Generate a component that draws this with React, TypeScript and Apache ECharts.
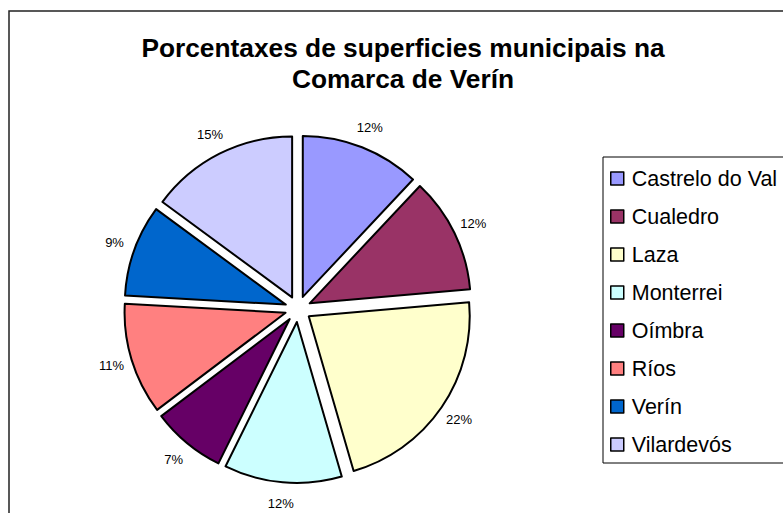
import React, { useEffect, useRef } from "react";
import * as echarts from "echarts";

const titleText = "Porcentaxes de superficies municipais na\nComarca de Verín";
const categories = [
  "Castrelo do Val",
  "Cualedro",
  "Laza",
  "Monterrei",
  "Oímbra",
  "Ríos",
  "Verín",
  "Vilardevós",
];
const shares = [12.0, 11.6, 21.9, 11.8, 7.4, 11.2, 9.2, 14.9];
const colors = [
  "#9999FF",
  "#993366",
  "#FFFFCC",
  "#CCFFFF",
  "#660066",
  "#FF8080",
  "#0066CC",
  "#CCCCFF",
];

const FONT = 'Arial, "Liberation Sans", sans-serif';

export default function App() {
  const ref = useRef<HTMLDivElement>(null);
  useEffect(() => {
    if (!ref.current) return;
    const chart = echarts.init(ref.current, undefined, { renderer: "svg" });
    chart.setOption({
      animation: false,
      backgroundColor: "#ffffff",
      color: colors,
      title: {
        text: titleText,
        left: 398,
        textAlign: "center",
        top: 27,
        textStyle: {
          fontFamily: FONT,
          fontSize: 26.3,
          fontWeight: "bold",
          lineHeight: 31,
          color: "#000",
        },
      },
      graphic: [
        {
          type: "rect",
          shape: { x: 9, y: 11, width: 900, height: 700 },
          style: { fill: "none", stroke: "#222", lineWidth: 1.5 },
          silent: true,
          z: -10,
        },
        {
          type: "rect",
          shape: { x: 603, y: 157, width: 300, height: 306 },
          style: { fill: "none", stroke: "#000", lineWidth: 1 },
          silent: true,
        },
      ],
      legend: {
        orient: "vertical",
        left: 605,
        top: 162.5,
        icon: "rect",
        itemWidth: 13,
        itemHeight: 13,
        itemGap: 16,
        selectedMode: false,
        itemStyle: { borderColor: "#000", borderWidth: 1.5 },
        textStyle: {
          fontFamily: FONT,
          fontSize: 21.5,
          lineHeight: 20,
          color: "#000",
          padding: [0, 0, 0, 3],
        },
        data: categories,
      },
      series: [
        {
          type: "pie",
          center: [298, 309],
          radius: 161,
          startAngle: 90,
          clockwise: true,
          selectedMode: "multiple",
          selectedOffset: 13,
          itemStyle: { borderColor: "#000", borderWidth: 2 },
          select: { itemStyle: { borderColor: "#000", borderWidth: 2 } },
          emphasis: { disabled: true },
          label: {
            show: true,
            position: "outside",
            fontFamily: FONT,
            fontSize: 13,
            color: "#000",
            distanceToLabelLine: 0,
            formatter: (p: any) => Math.round(p.percent) + "%",
          },
          labelLine: { show: false, length: 21, length2: 0 },
          labelLayout: { align: "center" },
          data: categories.map((name, i) => ({
            name,
            value: shares[i],
            selected: true,
          })),
        },
      ],
    });
    return () => chart.dispose();
  }, []);
  return (
    <div
      ref={ref}
      style={{ position: "fixed", left: 0, top: 0, width: 783, height: 513 }}
    />
  );
}
